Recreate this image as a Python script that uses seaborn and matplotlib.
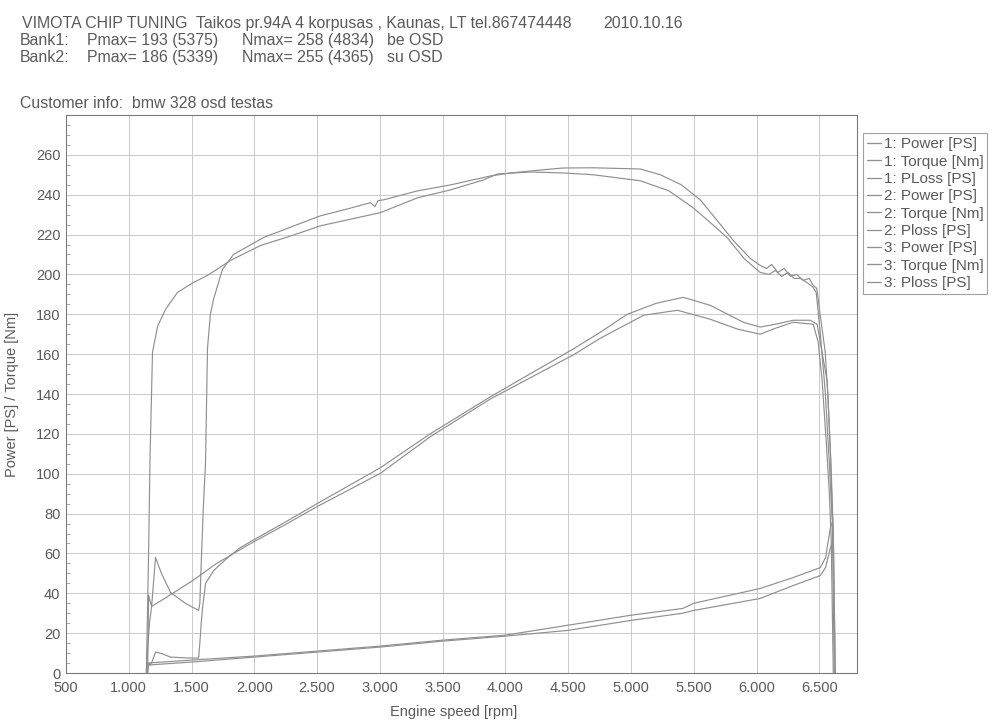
import pandas as pd
import matplotlib.pyplot as plt
import seaborn as sns
from matplotlib.lines import Line2D
from matplotlib.ticker import MultipleLocator

# run 1 torque (starts late, spike at low rpm)
torque1_rpm = [1150, 1158, 1170, 1182, 1213, 1260, 1333, 1450, 1556, 1566, 1577, 1595, 1611,
               1627, 1650, 1675, 1746, 1834, 2073, 2300, 2527, 2750, 2925, 2960, 2985, 3028,
               3298, 3561, 3880, 4039, 4300, 4461, 4700, 5074, 5234, 5400, 5552, 5700, 5815,
               5950, 6029, 6080, 6120, 6170, 6220, 6270, 6320, 6370, 6420, 6451, 6480, 6507,
               6547, 6571, 6595, 6611, 6627]
torque1_val = [0, 39, 36, 33.4, 58, 50, 40.4, 35, 31.4, 35, 55, 85, 105,
               163, 180, 187.5, 202.5, 210, 218.5, 224, 229.4, 233, 236, 234, 237, 237.4,
               241.9, 244.9, 249.4, 250.9, 252.5, 253.4, 253.5, 252.9, 250, 245, 237.4, 226, 217,
               208, 204.5, 203, 205, 201, 203, 199, 200, 197, 198, 194.5, 193, 179.6,
               161, 136, 101, 71, 0]

power1_rpm = [1150, 1160, 1172, 1182, 1213, 1260, 1333, 1450, 1556, 1566, 1577, 1588, 1612,
              1676, 1788, 1836, 1890, 2000, 2262, 2500, 3004, 3400, 3880, 4540, 4756, 4970,
              5200, 5416, 5631, 5894, 6029, 6150, 6292, 6427, 6483, 6531, 6563, 6587, 6603,
              6611, 6627]
power1_val = [0, 5, 4, 5, 10.5, 9.8, 8, 7.6, 7.5, 15, 25, 33, 45,
              51.4, 57.9, 60.3, 63, 67, 76.3, 85, 103, 120, 138.6, 162.6, 171, 180,
              185.5, 188.5, 184.5, 176, 173.6, 175, 177, 177, 175, 157.6, 146, 112.7, 80,
              71, 0]

loss_rpm = [1150, 1500, 2000, 2500, 3000, 3500, 4000, 4500, 5000, 5412, 5500, 6028, 6292,
            6508, 6550, 6588, 6605]
loss1_val = [5, 6.5, 8.5, 11, 13.5, 16.5, 19, 24, 29, 32.4, 35, 42.4, 47.9,
             52.9, 58, 72.8, 76]

# run 2
torque2_rpm = [1140, 1155, 1170, 1189, 1230, 1293, 1388, 1516, 1627, 1810, 2049, 2300, 2527,
               3004, 3298, 3561, 3824, 3936, 4198, 4461, 4700, 5074, 5300, 5496, 5650, 5766,
               5900, 6029, 6100, 6150, 6200, 6250, 6300, 6350, 6400, 6451, 6475, 6507, 6547,
               6579, 6603, 6619]
torque2_val = [0, 50, 110, 161, 174, 182.5, 191, 196, 199.5, 207, 214.5, 219.5, 224.4,
               231, 238.4, 242.4, 247.4, 250.4, 251.4, 250.9, 250, 247, 242, 233.4, 225, 218.5,
               208, 201, 200, 202, 199, 201, 198, 198, 196, 193.5, 191, 171, 141,
               106, 76, 0]

power2_rpm = [1140, 1150, 1165, 1182, 1300, 1400, 1500, 1600, 1700, 1836, 1890, 2000, 2262,
              2500, 3004, 3400, 3880, 4540, 4756, 5100, 5370, 5631, 5846, 6029, 6150, 6292,
              6451, 6491, 6523, 6555, 6579, 6595, 6611]
power2_val = [0, 12, 25, 33.4, 38, 42, 46, 50.5, 55, 60, 62, 66, 75,
              83.5, 100.2, 118.5, 137.5, 159.6, 168, 179.5, 182, 177.5, 172.6, 170, 173, 176,
              175, 166, 146, 116, 91, 66, 0]

loss2_val = [4, 5.5, 8, 10.5, 13, 16, 18.5, 21.4, 26.4, 30, 31.4, 37.4, 43.9,
             48.9, 53, 62.8, 66]

legend_labels = ['1: Power [PS]', '1: Torque [Nm]', '1: PLoss [PS]',
                 '2: Power [PS]', '2: Torque [Nm]', '2: Ploss [PS]',
                 '3: Power [PS]', '3: Torque [Nm]', '3: Ploss [PS]']

x_ticks = [500, 1000, 1500, 2000, 2500, 3000, 3500, 4000, 4500, 5000, 5500, 6000, 6500]
y_ticks = list(range(0, 261, 20))

curves = {
    '1 power': (power1_rpm, power1_val),
    '1 torque': (torque1_rpm, torque1_val),
    '1 loss': (loss_rpm, loss1_val),
    '2 power': (power2_rpm, power2_val),
    '2 torque': (torque2_rpm, torque2_val),
    '2 loss': (loss_rpm, loss2_val),
}
frames = [pd.DataFrame({'rpm': r, 'value': v, 'curve': k}) for k, (r, v) in curves.items()]
df = pd.concat(frames, ignore_index=True)

sns.set_style('white')
plt.rcParams['font.family'] = ['Liberation Sans', 'DejaVu Sans']
txt = '#5a5a5a'
line_col = '#8f8f8f'

fig = plt.figure(figsize=(10, 7.25), dpi=100)
ax = fig.add_axes([0.066, 0.0717, 0.791, 0.7697])

sns.lineplot(data=df, x='rpm', y='value', hue='curve', estimator=None, sort=False,
             palette={k: line_col for k in curves}, legend=False, linewidth=0.85, ax=ax)

ax.set_xlim(500, 6800)
ax.set_ylim(0, 280)
ax.set_xticks(x_ticks)
ax.set_xticklabels([f'{t:,}'.replace(',', '.') for t in x_ticks])
ax.set_yticks(y_ticks)
ax.yaxis.set_minor_locator(MultipleLocator(5))
ax.tick_params(axis='both', which='major', length=0, labelsize=10.5, colors=txt)
ax.tick_params(axis='x', which='major', pad=6)
ax.tick_params(axis='y', which='major', pad=4)
ax.tick_params(axis='y', which='minor', length=3, direction='in', color='#999999', left=True)
ax.grid(True, which='major', color='#cacaca', linewidth=0.7)
for s in ax.spines.values():
    s.set_color('#7a7a7a')
    s.set_linewidth(0.8)

ax.set_xlabel('Engine speed [rpm]', fontsize=10.5, color=txt)
ax.set_ylabel('Power [PS] / Torque [Nm]', fontsize=10.5, color=txt)
ax.xaxis.set_label_coords(0.49, -0.058)
ax.yaxis.set_label_coords(-0.06, 0.5)

handles = [Line2D([], [], color=line_col, linewidth=0.9) for _ in legend_labels]
leg = fig.legend(handles, legend_labels, loc='upper left', bbox_to_anchor=(0.863, 0.816),
                 fontsize=11, frameon=True, fancybox=False, handlelength=0.9,
                 handletextpad=0.2, labelspacing=0.22, borderpad=0.25, borderaxespad=0)
leg.get_frame().set_edgecolor('#8a8a8a')
leg.get_frame().set_linewidth(0.8)
for t in leg.get_texts():
    t.set_color(txt)

fig.text(0.022, 0.978, 'VIMOTA CHIP TUNING  Taikos pr.94A 4 korpusas , Kaunas, LT tel.867474448',
         fontsize=11.4, color=txt, va='top')
fig.text(0.603, 0.978, '2010.10.16', fontsize=11.4, color=txt, va='top')
for row, (bank, pmax, nmax, note) in enumerate([('Bank1:', 'Pmax= 193 (5375)', 'Nmax= 258 (4834)', 'be OSD'),
                                                ('Bank2:', 'Pmax= 186 (5339)', 'Nmax= 255 (4365)', 'su OSD')]):
    y = 0.955 - row * 0.024
    fig.text(0.020, y, bank, fontsize=11.4, color=txt, va='top')
    fig.text(0.087, y, pmax, fontsize=11.4, color=txt, va='top')
    fig.text(0.242, y, nmax, fontsize=11.4, color=txt, va='top')
    fig.text(0.387, y, note, fontsize=11.4, color=txt, va='top')
fig.text(0.020, 0.868, 'Customer info:  bmw 328 osd testas', fontsize=11.4, color=txt, va='top')

fig.savefig('out.png', dpi=100)
